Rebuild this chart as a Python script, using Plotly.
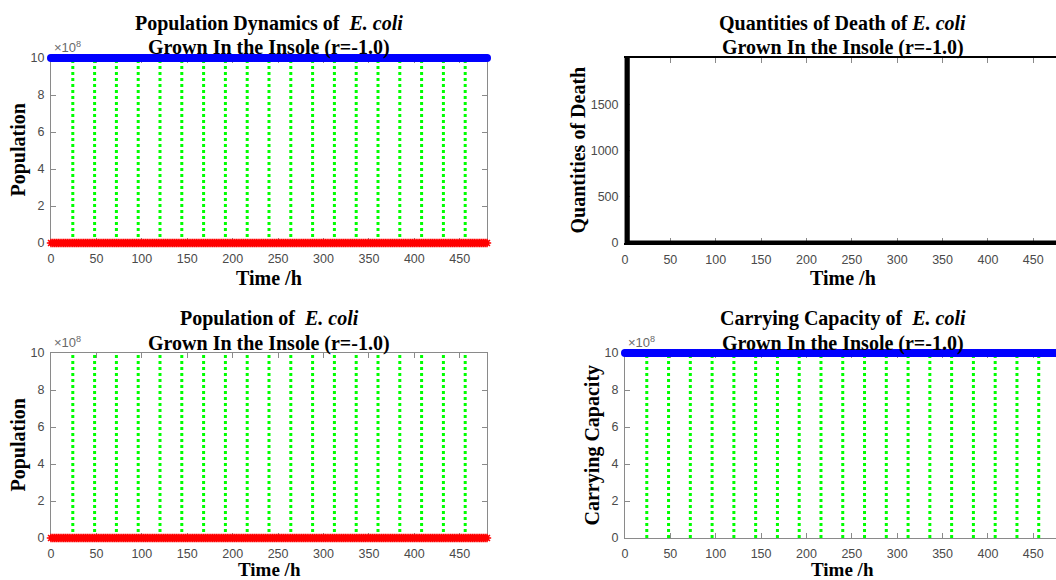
import plotly.graph_objects as go

# ---------------- data ----------------
hours = list(range(0, 481, 2))
population_total = [1.0e9] * len(hours)      # blue series (upper)
population_ecoli = [0.0] * len(hours)        # red series (lower)
carrying_capacity = [1.0e9] * len(hours)     # blue series (carrying capacity)
day_marks = [24, 48, 72, 96, 120, 144, 168, 192, 216, 240, 264, 288, 312,
             336, 360, 384, 408, 432, 456]
day_mark_top = 1.0e9
death_time = [0, 2.5, 2.5, 2.5, 480]
death_count = [0, 0, 2400, 0, 0]

x_ticks = [0, 50, 100, 150, 200, 250, 300, 350, 400, 450]
pop_ticks = [0, 2e8, 4e8, 6e8, 8e8, 10e8]
pop_tick_text = ["0", "2", "4", "6", "8", "10"]
death_ticks = [0, 500, 1000, 1500]

# ---------------- layout helpers ----------------
W, H = 1056, 580
def px_x(p):
    return p / W
def px_y(p):
    return 1 - p / H

LEFT = (51, 487)
RIGHT = (625, 1056)
RIGHT_FULL_END = 1060.5
TOP = (58, 243)
BOT = (353, 538)

SERIF = "Liberation Serif, Times New Roman, serif"
SANS = "Liberation Sans, Arial, sans-serif"
AX_COL = "#8a8a8a"
TICK_FONT = dict(family=SANS, size=12.5, color="#4a4a4a")

green_x, green_y = [], []
for d in day_marks:
    green_x += [d, d, None]
    green_y += [0, day_mark_top, None]

fig = go.Figure()

def add_green(xa, ya):
    fig.add_trace(go.Scatter(x=green_x, y=green_y, mode="lines", xaxis=xa, yaxis=ya,
                             line=dict(color="#00ff00", width=3, dash="dot"),
                             showlegend=False, hoverinfo="skip"))

def add_blue(xa, ya, vals):
    fig.add_trace(go.Scatter(x=hours, y=vals, mode="lines+markers", xaxis=xa, yaxis=ya,
                             line=dict(color="#0000ff", width=6),
                             marker=dict(symbol="circle", size=8, color="#0000ff"),
                             cliponaxis=False, showlegend=False))

def add_red(xa, ya, vals):
    fig.add_trace(go.Scatter(x=hours, y=vals, mode="lines+markers", xaxis=xa, yaxis=ya,
                             line=dict(color="#ff0000", width=5),
                             marker=dict(symbol="asterisk-open", size=7,
                                         line=dict(color="#ff0000", width=1.5)),
                             cliponaxis=False, showlegend=False))

# top-left
add_green("x", "y")
add_blue("x", "y", population_total)
add_red("x", "y", population_ecoli)
# top-right
fig.add_trace(go.Scatter(x=death_time, y=death_count, mode="lines", xaxis="x2", yaxis="y2",
                         line=dict(color="#000000", width=5), showlegend=False))
# bottom-left
add_green("x3", "y3")
add_red("x3", "y3", population_ecoli)
# bottom-right
add_green("x4", "y4")
add_blue("x4", "y4", carrying_capacity)

right_range_end = 480 * (RIGHT[1] - RIGHT[0]) / (RIGHT_FULL_END - RIGHT[0])

def xaxis(dom, rng, mirror):
    return dict(domain=[px_x(dom[0]), px_x(dom[1])], range=rng, tickvals=x_ticks,
                ticks="inside", ticklen=5, tickcolor=AX_COL, showline=True, linecolor=AX_COL,
                linewidth=1, mirror=mirror, showgrid=False, zeroline=False, tickfont=TICK_FONT,
                layer="below traces", ticklabelstandoff=4, automargin=False)

def yaxis(dom, rng, tv, tt, mirror, anchor):
    return dict(domain=[px_y(dom[1]), px_y(dom[0])], range=rng, tickvals=tv, ticktext=tt,
                ticks="inside", ticklen=5, tickcolor=AX_COL, showline=True, linecolor=AX_COL,
                linewidth=1, mirror=mirror, showgrid=False, zeroline=False, tickfont=TICK_FONT,
                layer="below traces", anchor=anchor, ticklabelstandoff=3, automargin=False)

fig.update_layout(
    template="none", autosize=False,
    width=W, height=H, margin=dict(l=0, r=0, t=0, b=0, pad=0),
    paper_bgcolor="white", plot_bgcolor="white",
    xaxis=dict(xaxis(LEFT, [0, 480], "ticks"), anchor="y"),
    yaxis=yaxis(TOP, [0, 1e9], pop_ticks, pop_tick_text, "ticks", "x"),
    xaxis2=dict(xaxis(RIGHT, [0, right_range_end], "ticks"), anchor="y2", linecolor="#000000",
                linewidth=1.5),
    yaxis2=yaxis(TOP, [0, 2000], death_ticks, [str(v) for v in death_ticks], False, "x2"),
    xaxis3=dict(xaxis(LEFT, [0, 480], "ticks"), anchor="y3"),
    yaxis3=yaxis(BOT, [0, 1e9], pop_ticks, pop_tick_text, "ticks", "x3"),
    xaxis4=dict(xaxis(RIGHT, [0, right_range_end], "ticks"), anchor="y4"),
    yaxis4=yaxis(BOT, [0, 1e9], pop_ticks, pop_tick_text, False, "x4"),
)

ann = []
def text(x, y, s, size=20, angle=0, xanchor="center", yanchor="middle", font=SERIF,
         color="#000000", bold=True, pad=1):
    ann.append(dict(xref="paper", yref="paper", x=px_x(x), y=px_y(y), text=(f"<b>{s}</b>" if bold else s),
                    showarrow=False, textangle=angle, xanchor=xanchor, yanchor=yanchor,
                    borderpad=pad, font=dict(family=font, size=size, color=color)))

cl = (LEFT[0] + LEFT[1]) / 2
cr = (RIGHT[0] + RIGHT_FULL_END) / 2
NB = "\u00a0"
# titles
text(cl, 23, f"Population Dynamics of{NB} <i>E. coli</i>")
text(cl, 48, "Grown In the Insole (r=-1.0)")
text(cr, 23, "Quantities of Death of <i>E. coli</i>")
text(cr, 48, "Grown In the Insole (r=-1.0)")
text(cl, 318, f"Population of{NB} <i>E. coli</i>")
text(cl, 343, "Grown In the Insole (r=-1.0)")
text(cr, 318, f"Carrying Capacity of{NB} <i>E. coli</i>")
text(cr, 343, "Grown In the Insole (r=-1.0)")
# x labels
text(cl, 278, "Time /h")
text(cr, 278, "Time /h")
text(cl, 569.5, "Time /h", size=19, pad=0)
text(cr, 569.5, "Time /h", size=19, pad=0)
# y labels
text(18, (TOP[0] + TOP[1]) / 2, "Population", angle=-90)
text(578, (TOP[0] + TOP[1]) / 2, "Quantities of Death", angle=-90)
text(18, (BOT[0] + BOT[1]) / 2, "Population", angle=-90)
text(592, (BOT[0] + BOT[1]) / 2, "Carrying Capacity", angle=-90)
# exponent labels
for xl, yt in [(LEFT[0], TOP[0]), (LEFT[0], BOT[0]), (RIGHT[0], BOT[0])]:
    text(xl + 1, yt - 1, "\u00d710<sup>8</sup>", size=13, xanchor="left", yanchor="bottom",
         font=SANS, color="#6a6a6a", bold=False)

fig.update_layout(annotations=ann)
fig.write_html("out.html")
